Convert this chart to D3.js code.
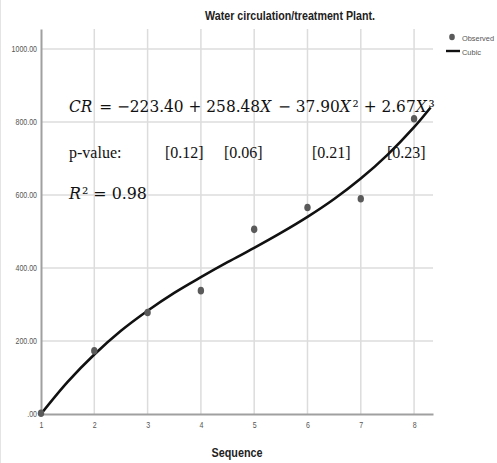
<!DOCTYPE html>
<html>
<head>
<meta charset="utf-8">
<script src="https://cdn.jsdelivr.net/npm/d3@7"></script>
<style>
  body { margin: 0; background: #fff; }
  .narrow { font-family: "Liberation Sans", Arial, sans-serif; }
  .serif { font-family: "Liberation Serif", "Times New Roman", serif; }
  .math { font-family: "DejaVu Serif", serif; }
</style>
</head>
<body>
<div id="chart-area"></div>
<script>
// observed values
var sequence = [1, 2, 3, 4, 5, 6, 7, 8];
var observed = [2, 173, 278, 338, 506, 566, 590, 809];

// cubic fit line
var fitX = [1, 1.5, 2, 2.5, 3, 3.5, 4, 4.5, 5, 5.5, 6, 6.5, 7, 7.5, 8, 8.31];
var fitY = [0, 88, 163, 228, 283, 332, 375, 416, 455, 496, 540, 589, 645, 710, 786, 840];

var yTicks = [0, 200, 400, 600, 800, 1000];
var yTickLabels = [".00", "200.00", "400.00", "600.00", "800.00", "1000.00"];
var pValues = ["[0.12]", "[0.06]", "[0.21]", "[0.23]"];
var pValueX = [165, 224, 312, 387];

var margin = { left: 41, top: 29, right: 64, bottom: 49 };
var W = 497, H = 463;
var width = W - margin.left - margin.right,
    height = H - margin.top - margin.bottom;

// squeeze a text horizontally, the screenshot uses a narrow font
function squeeze(sel, factor) {
    sel.each(function() {
        var len = this.getComputedTextLength();
        d3.select(this)
            .attr("textLength", len * factor)
            .attr("lengthAdjust", "spacingAndGlyphs");
    });
}

var svg = d3.select("#chart-area")
    .append("svg")
        .attr("width", W)
        .attr("height", H);

svg.append("line")
    .attr("x1", 0.5).attr("x2", 0.5)
    .attr("y1", 0).attr("y2", H)
    .attr("stroke", "#e4e4e4");

var g = svg.append("g")
    .attr("transform", "translate(" + margin.left + ", " + margin.top + ")");

var x = d3.scaleLinear()
    .domain([1, 8.355])
    .range([0, width]);

var y = d3.scaleLinear()
    .domain([0, 1055])
    .range([height, 0]);

// grid
g.selectAll(".vgrid")
    .data(sequence.slice(1))
    .enter().append("line")
        .attr("class", "vgrid")
        .attr("x1", function(d) { return x(d); })
        .attr("x2", function(d) { return x(d); })
        .attr("y1", 0)
        .attr("y2", height)
        .attr("stroke", "#dcdcdc")
        .attr("stroke-width", 1.5);

g.selectAll(".hgrid")
    .data(yTicks.slice(1))
    .enter().append("line")
        .attr("class", "hgrid")
        .attr("x1", 0)
        .attr("x2", width)
        .attr("y1", function(d) { return y(d); })
        .attr("y2", function(d) { return y(d); })
        .attr("stroke", "#dcdcdc")
        .attr("stroke-width", 1.5);

// axes
var xAxisCall = d3.axisBottom(x)
    .tickValues(sequence)
    .tickSize(0)
    .tickPadding(8)
    .tickFormat(d3.format("d"));
var xAxisGroup = g.append("g")
    .attr("class", "x axis")
    .attr("transform", "translate(0," + height + ")")
    .call(xAxisCall);

var yAxisCall = d3.axisLeft(y)
    .tickValues(yTicks)
    .tickSize(0)
    .tickPadding(4)
    .tickFormat(function(d, i) { return yTickLabels[i]; });
var yAxisGroup = g.append("g")
    .attr("class", "y axis")
    .call(yAxisCall);

[xAxisGroup, yAxisGroup].forEach(function(ax) {
    ax.select(".domain").attr("stroke", "#a0a0a0").attr("stroke-width", 2);
    ax.selectAll("text")
        .attr("fill", "#555")
        .attr("font-size", "9px")
        .attr("font-family", "'Liberation Sans', Arial, sans-serif")
        .call(squeeze, 0.78);
});

// fit line
var line = d3.line()
    .x(function(d) { return x(d[0]); })
    .y(function(d) { return y(d[1]); })
    .curve(d3.curveCatmullRom);

g.append("path")
    .datum(d3.zip(fitX, fitY))
    .attr("fill", "none")
    .attr("stroke", "#111")
    .attr("stroke-width", 2.6)
    .attr("d", line);

// observed points
g.selectAll("ellipse.obs")
    .data(d3.zip(sequence, observed))
    .enter().append("ellipse")
        .attr("class", "obs")
        .attr("cx", function(d) { return x(d[0]); })
        .attr("cy", function(d) { return y(d[1]); })
        .attr("rx", 3.2)
        .attr("ry", 3.8)
        .attr("fill", "#5a5a5a");

// title
svg.append("text")
    .attr("class", "narrow")
    .attr("x", 290)
    .attr("y", 20)
    .attr("text-anchor", "middle")
    .attr("font-size", "12.5px")
    .attr("font-weight", "bold")
    .attr("fill", "#222")
    .text("Water circulation/treatment Plant.")
    .attr("textLength", 170)
    .attr("lengthAdjust", "spacingAndGlyphs");

// X label
svg.append("text")
    .attr("class", "narrow")
    .attr("x", 237)
    .attr("y", 457)
    .attr("text-anchor", "middle")
    .attr("font-size", "13px")
    .attr("font-weight", "bold")
    .attr("fill", "#222")
    .text("Sequence")
    .attr("textLength", 51)
    .attr("lengthAdjust", "spacingAndGlyphs");

// legend
var legend = svg.append("g")
    .attr("class", "narrow")
    .attr("transform", "translate(446, 37)");
legend.append("ellipse")
    .attr("cx", 6).attr("cy", 0)
    .attr("rx", 2.8).attr("ry", 3.2)
    .attr("fill", "#5a5a5a");
legend.append("text")
    .attr("x", 16).attr("y", 3.5)
    .attr("font-size", "8px")
    .attr("fill", "#555")
    .text("Observed")
    .attr("textLength", 32)
    .attr("lengthAdjust", "spacingAndGlyphs");
legend.append("line")
    .attr("x1", 0).attr("x2", 14)
    .attr("y1", 14).attr("y2", 14)
    .attr("stroke", "#111")
    .attr("stroke-width", 2.4);
legend.append("text")
    .attr("x", 16).attr("y", 17.5)
    .attr("font-size", "8px")
    .attr("fill", "#555")
    .text("Cubic")
    .attr("textLength", 19)
    .attr("lengthAdjust", "spacingAndGlyphs");

// equation: one text, italic variables as tspans, squeezed with a transform
var eqParts = [
    ["CR", true], [" = \u2212223.40 + 258.48", false], ["X", true],
    [" \u2212 37.90", false], ["X", true], ["\u00b2", false],
    [" + 2.67", false], ["X", true], ["\u00b3", false]
];
var eq = svg.append("text")
    .attr("class", "math")
    .attr("font-size", "16px")
    .attr("fill", "#111")
    .style("white-space", "pre");
eqParts.forEach(function(p, i) {
    var prevItalic = i > 0 && eqParts[i - 1][1];
    eq.append("tspan")
        .attr("dx", prevItalic ? 2 : 0)
        .attr("font-style", p[1] ? "italic" : "normal")
        .text(p[0]);
});
var eqW = eq.node().getBBox().width;
eq.attr("transform", "translate(69,112) scale(" + (366 / eqW) + ",1)");

svg.append("text")
    .attr("class", "serif")
    .attr("x", 69)
    .attr("y", 158)
    .attr("font-size", "16px")
    .attr("fill", "#111")
    .text("p-value:");

svg.selectAll("text.pval")
    .data(pValues)
    .enter().append("text")
        .attr("class", "pval serif")
        .attr("x", function(d, i) { return pValueX[i]; })
        .attr("y", 158)
        .attr("font-size", "16px")
        .attr("fill", "#111")
        .text(function(d) { return d; });

var r2 = svg.append("text")
    .attr("class", "math")
    .attr("font-size", "16px")
    .attr("fill", "#111")
    .style("white-space", "pre");
r2.append("tspan").attr("font-style", "italic").text("R");
r2.append("tspan").attr("dx", 1).text("\u00b2 = 0.98");
var r2W = r2.node().getBBox().width;
r2.attr("transform", "translate(69,199) scale(" + (79 / r2W) + ",1)");
</script>
</body>
</html>
